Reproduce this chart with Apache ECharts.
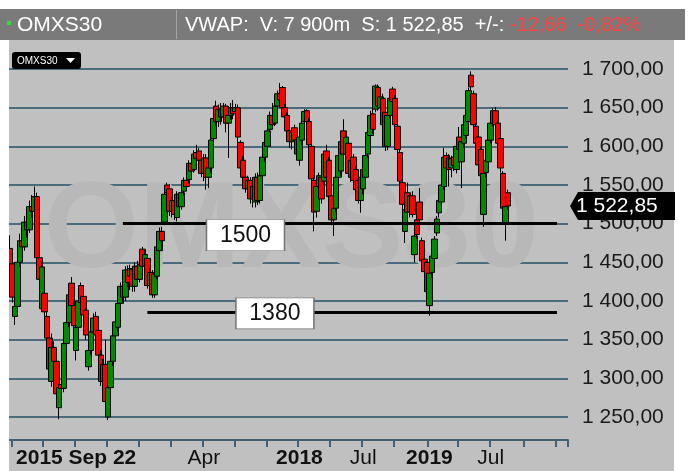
<!DOCTYPE html>
<html>
<head>
<meta charset="utf-8">
<script src="https://cdn.jsdelivr.net/npm/echarts@6/dist/echarts.min.js"></script>
<style>
  html, body { margin: 0; padding: 0; background: #fff; }
  #main { width: 689px; height: 471px; }
</style>
</head>
<body>
<div id="main"></div>
<script>
// weekly candles, first week starts 2015-09-22
var startDate = '2015-09-22';
var totalWeeks = 228; // incl. empty weeks right of the last candle

var opens = [
  1468,1448,1380,1393,1450,1478,1470,1502,1492,1522,
  1516,1535,1456,1390,1410,1380,1352,1296,1340,1322,
  1262,1292,1287,1345,1372,1423,1394,1336,1366,1420,
  1406,1388,1315,1336,1360,1380,1362,1330,1296,1318,
  1250,1288,1322,1355,1366,1397,1419,1405,1440,1432,
  1441,1419,1445,1428,1467,1445,1455,1420,1437,1408,
  1432,1465,1490,1502,1550,1545,1516,1530,1508,1538,
  1522,1542,1556,1557,1578,1570,1592,1594,1582,1565,
  1585,1560,1572,1610,1652,1632,1648,1638,1652,1630,
  1640,1650,1645,1650,1605,1582,1560,1545,1556,1532,
  1528,1560,1530,1562,1586,1600,1622,1640,1630,1652,
  1668,1676,1650,1640,1620,1606,1624,1608,1582,1608,
  1632,1646,1632,1600,1556,1516,1548,1560,1555,1594,
  1582,1536,1505,1520,1560,1568,1620,1590,1604,1560,
  1586,1570,1556,1530,1545,1560,1590,1614,1642,1648,
  1676,1650,1662,1644,1600,1640,1674,1662,1626,1592,
  1553,1490,1540,1515,1536,1460,1505,1528,1478,1454,
  1450,1394,1437,1455,1488,1514,1528,1548,1588,1585,
  1572,1586,1570,1612,1580,1604,1614,1632,1692,1668,
  1626,1612,1596,1512,1566,1580,1608,1630,1646,1630,
  1610,1565,1500,1540
];
var closes = [
  1448,1405,1393,1450,1478,1470,1502,1492,1522,1516,
  1535,1456,1428,1444,1386,1352,1312,1340,1322,1280,
  1288,1287,1345,1372,1408,1394,1368,1366,1400,1398,
  1382,1356,1336,1360,1378,1356,1330,1296,1318,1270,
  1288,1322,1355,1373,1397,1419,1405,1440,1424,1442,
  1419,1445,1428,1447,1445,1460,1420,1437,1408,1435,
  1470,1490,1478,1538,1540,1516,1530,1512,1538,1522,
  1540,1556,1548,1578,1568,1590,1584,1582,1565,1585,
  1560,1572,1608,1636,1632,1648,1638,1652,1630,1640,
  1650,1642,1650,1612,1572,1560,1545,1556,1532,1548,
  1560,1530,1562,1586,1605,1620,1640,1628,1652,1668,
  1660,1650,1638,1620,1606,1618,1608,1590,1612,1630,
  1645,1632,1602,1558,1515,1548,1562,1532,1590,1560,
  1535,1505,1520,1560,1588,1606,1590,1612,1565,1582,
  1556,1544,1530,1560,1570,1588,1618,1640,1622,1678,
  1652,1664,1628,1600,1640,1662,1658,1628,1596,1555,
  1525,1518,1515,1536,1512,1484,1486,1505,1452,1438,
  1412,1436,1458,1480,1506,1530,1550,1586,1572,1570,
  1584,1575,1600,1596,1606,1628,1640,1672,1677,1628,
  1604,1576,1562,1565,1582,1608,1630,1646,1628,1604,
  1572,1520,1522,1522.85
];
var lows = [
  1442,1398,1369,1388,1444,1458,1465,1482,1488,1508,
  1512,1450,1420,1386,1380,1345,1300,1289,1312,1272,
  1247,1280,1282,1338,1366,1390,1360,1323,1360,1392,
  1376,1350,1310,1330,1354,1350,1324,1290,1286,1260,
  1246,1282,1316,1350,1360,1390,1398,1400,1418,1414,
  1412,1412,1420,1424,1438,1440,1416,1412,1404,1404,
  1428,1460,1466,1498,1536,1510,1508,1505,1503,1512,
  1518,1536,1544,1552,1562,1566,1578,1575,1560,1555,
  1544,1546,1566,1605,1626,1625,1628,1630,1618,1585,
  1634,1635,1628,1605,1566,1552,1540,1538,1526,1521,
  1521,1524,1526,1556,1580,1594,1618,1622,1626,1648,
  1652,1645,1632,1614,1598,1596,1600,1584,1575,1602,
  1628,1626,1598,1552,1490,1508,1540,1526,1550,1555,
  1530,1498,1484,1515,1555,1562,1582,1585,1560,1554,
  1550,1538,1526,1514,1538,1555,1585,1610,1616,1644,
  1646,1645,1622,1594,1595,1636,1652,1620,1590,1550,
  1518,1475,1510,1508,1508,1450,1480,1500,1448,1432,
  1405,1381,1430,1450,1484,1508,1524,1544,1566,1548,
  1560,1568,1565,1590,1546,1598,1610,1628,1672,1620,
  1598,1570,1556,1496,1560,1575,1604,1626,1622,1598,
  1566,1514,1478,1518
];
var highs = [
  1485,1452,1398,1455,1487,1490,1510,1515,1530,1537,
  1548,1540,1462,1450,1416,1386,1360,1358,1348,1330,
  1293,1297,1350,1380,1414,1431,1400,1370,1406,1424,
  1410,1392,1340,1364,1384,1386,1366,1336,1325,1350,
  1294,1328,1360,1378,1402,1424,1423,1445,1446,1447,
  1445,1450,1452,1452,1470,1466,1460,1442,1440,1440,
  1480,1495,1496,1542,1553,1551,1535,1534,1542,1541,
  1545,1560,1560,1582,1584,1595,1602,1598,1588,1590,
  1590,1578,1612,1640,1659,1654,1656,1656,1655,1646,
  1656,1660,1655,1654,1608,1588,1565,1562,1560,1552,
  1565,1566,1566,1590,1610,1624,1645,1656,1656,1672,
  1682,1678,1655,1644,1624,1622,1628,1612,1616,1634,
  1648,1648,1636,1604,1560,1555,1566,1565,1594,1602,
  1586,1540,1525,1564,1592,1610,1635,1618,1608,1586,
  1590,1574,1560,1565,1574,1592,1622,1646,1648,1680,
  1680,1670,1668,1648,1645,1667,1677,1666,1630,1596,
  1557,1522,1553,1540,1542,1490,1510,1546,1482,1458,
  1452,1440,1462,1484,1510,1534,1554,1598,1592,1590,
  1588,1590,1605,1625,1610,1632,1644,1676,1697,1672,
  1630,1616,1600,1570,1586,1614,1634,1650,1651,1634,
  1614,1568,1528,1544
];

var yMin = 1250, yMax = 1700, yStep = 50;
var xLabelTexts = ['2015 Sep 22', 'Apr', '2018', 'Jul', '2019', 'Jul'];
var xLabelMonths = ['', '2017-04', '2018-01', '2018-07', '2019-01', '2019-07'];
var lastPrice = 1522.85;

// drawn annotations: [startWeek, endWeek, price]
var supportLines = [[46, 223, 1500], [56, 223, 1385]];
var supportBoxes = [[96, 1485, '1500'], [108, 1384, '1380']];
var trendLine = [[186, 1708], [209, 1605]];

// week categories
var weeks = [];
var weekEndMonth = [];
var t0 = Date.parse(startDate + 'T00:00:00Z');
for (var i = 0; i < totalWeeks; i++) {
  var d = new Date(t0 + i * 7 * 864e5);
  var e = new Date(t0 + (i * 7 + 6) * 864e5);
  weeks.push(d.toISOString().slice(0, 10));
  var quarterStart = (e.getUTCMonth() !== d.getUTCMonth() || d.getUTCDate() === 1) && e.getUTCMonth() % 3 === 0;
  weekEndMonth.push(quarterStart ? e.toISOString().slice(0, 7) : null);
}

var candles = [];
for (var i = 0; i < opens.length; i++) {
  candles.push([opens[i], closes[i], lows[i], highs[i]]);
}

function fmtPrice(v) {
  var whole = Math.floor(v);
  var cents = Math.round((v - whole) * 100);
  var th = Math.floor(whole / 1000), rest = whole % 1000;
  return th + ' ' + ('00' + rest).slice(-3) + ',' + ('0' + cents).slice(-2);
}

var chart = echarts.init(document.getElementById('main'));

var option = {
  animation: false,
  backgroundColor: '#c0c0c0',
  textStyle: { fontFamily: 'Liberation Sans, Arial, sans-serif' },
  grid: { left: 8.8, right: 121, top: 69, bottom: 54 },
  xAxis: {
    type: 'category',
    data: weeks,
    offset: 23,
    axisLine: { lineStyle: { color: '#3f6275', width: 2 } },
    axisTick: {
      show: true,
      length: 7,
      lineStyle: { color: '#3f6275', width: 2 },
      interval: function (idx) { return weekEndMonth[idx] !== null; }
    },
    axisLabel: {
      margin: 8,
      fontSize: 21,
      color: '#111',
      alignMinLabel: 'left',
      interval: function (idx) {
        return idx === 0 || (weekEndMonth[idx] !== null && xLabelMonths.indexOf(weekEndMonth[idx]) > 0);
      },
      formatter: function (v, idx) {
        if (idx === 0) return '{s|' + xLabelTexts[0] + '}';
        var k = xLabelMonths.indexOf(weekEndMonth[idx]);
        var txt = xLabelTexts[k];
        return /^\d{4}$/.test(txt) ? '{b|' + txt + '}' : '{n|' + txt + '}';
      },
      rich: {
        s: { fontSize: 21, fontWeight: 'bold', color: '#111', padding: [0, 0, 0, 6] },
        b: { fontSize: 21, fontWeight: 'bold', color: '#111' },
        n: { fontSize: 21, color: '#111' }
      }
    },
    splitLine: { show: false }
  },
  yAxis: {
    type: 'value',
    position: 'right',
    min: yMin,
    max: yMax,
    interval: yStep,
    axisLine: { show: false },
    axisTick: { show: false },
    axisLabel: {
      margin: 14,
      fontSize: 21,
      color: '#1a1a1a',
      formatter: fmtPrice
    },
    splitLine: { lineStyle: { color: '#4a6b7e', width: 2 } }
  },
  graphic: [
    // watermark
    {
      type: 'text', z: 1, left: 44, top: 172,
      style: { text: 'OMXS30', fontSize: 122, fontWeight: 'bold', fill: '#b8b8b8',
               fontFamily: 'Liberation Sans, Arial, sans-serif' }
    },
    // white margins
    { type: 'rect', z: 100, shape: { x: 0, y: 0, width: 689, height: 9 }, style: { fill: '#fff' } },
    { type: 'rect', z: 100, shape: { x: 0, y: 40, width: 9, height: 431 }, style: { fill: '#fff' } },
    { type: 'rect', z: 100, shape: { x: 674, y: 40, width: 15, height: 431 }, style: { fill: '#fff' } },
    { type: 'rect', z: 100, shape: { x: 685, y: 9, width: 4, height: 31 }, style: { fill: '#fff' } },
    // header bar
    { type: 'rect', z: 100, shape: { x: 0, y: 9, width: 685, height: 31 }, style: { fill: '#7a7a7a' } },
    { type: 'rect', z: 101, shape: { x: 176, y: 10, width: 1, height: 29 }, style: { fill: '#a5a5a5' } },
    { type: 'rect', z: 101, shape: { x: 7, y: 21, width: 4, height: 4 }, style: { fill: '#33dd33' } },
    {
      type: 'text', z: 101, x: 17, y: 25,
      style: { text: 'OMXS30', fontSize: 21, fill: '#fff', verticalAlign: 'middle',
               fontFamily: 'Liberation Sans, Arial, sans-serif' }
    },
    {
      type: 'text', z: 101, x: 185, y: 25,
      style: {
        text: '{w|VWAP:  V: 7 900m  S: 1 522,85  +/-: }{r|-12,66  -0,82%}',
        verticalAlign: 'middle',
        fontFamily: 'Liberation Sans, Arial, sans-serif',
        rich: {
          w: { fontSize: 20, fill: '#fff' },
          r: { fontSize: 20, fill: '#ff4040' }
        }
      }
    },
    // small instrument selector
    { type: 'rect', z: 101, shape: { x: 12, y: 52, width: 69, height: 17, r: 3 }, style: { fill: '#000' } },
    {
      type: 'text', z: 102, x: 17, y: 61,
      style: { text: 'OMXS30', fontSize: 10, fill: '#fff', verticalAlign: 'middle',
               fontFamily: 'Liberation Sans, Arial, sans-serif' }
    },
    { type: 'polygon', z: 102, shape: { points: [[66, 58], [75, 58], [70.5, 63]] }, style: { fill: '#fff' } }
  ],
  series: [{
    type: 'candlestick',
    data: candles,
    barWidth: 6,
    clip: false,
    itemStyle: {
      color: '#008a00',
      color0: '#ff0000',
      borderColor: '#000',
      borderColor0: '#000',
      borderWidth: 1
    },
    markLine: {
      silent: true,
      symbol: ['none', 'none'],
      label: { show: false },
      lineStyle: { color: '#000', width: 3, type: 'solid' },
      data: supportLines.map(function (s) {
        return [{ coord: [weeks[s[0]], s[2]] }, { coord: [weeks[s[1]], s[2]] }];
      }).concat([[
        { coord: [weeks[trendLine[0][0]], trendLine[0][1]] },
        { coord: [weeks[trendLine[1][0]], trendLine[1][1]] }
      ]])
    },
    markPoint: {
      silent: true,
      symbol: 'rect',
      symbolSize: [78, 31],
      itemStyle: { color: '#fff', borderColor: '#777', borderWidth: 1 },
      label: { show: true, color: '#111', fontSize: 23, formatter: function (p) { return p.name; } },
      data: supportBoxes.map(function (b) {
        return { name: b[2], coord: [weeks[b[0]], b[1]] };
      })
    }
  }]
};

chart.setOption(option);

// last price tag on the right axis
var ty = chart.convertToPixel({ yAxisIndex: 0 }, lastPrice);
chart.setOption({
  graphic: option.graphic.concat([
    {
      type: 'polygon', z: 110,
      shape: { points: [[570, ty], [578, ty - 14], [675, ty - 14], [675, ty + 14], [578, ty + 14]] },
      style: { fill: '#000' }
    },
    {
      type: 'text', z: 111, x: 576, y: ty,
      style: { text: fmtPrice(lastPrice), fontSize: 21, fill: '#fff', verticalAlign: 'middle',
               fontFamily: 'Liberation Sans, Arial, sans-serif' }
    }
  ])
});
</script>
</body>
</html>
